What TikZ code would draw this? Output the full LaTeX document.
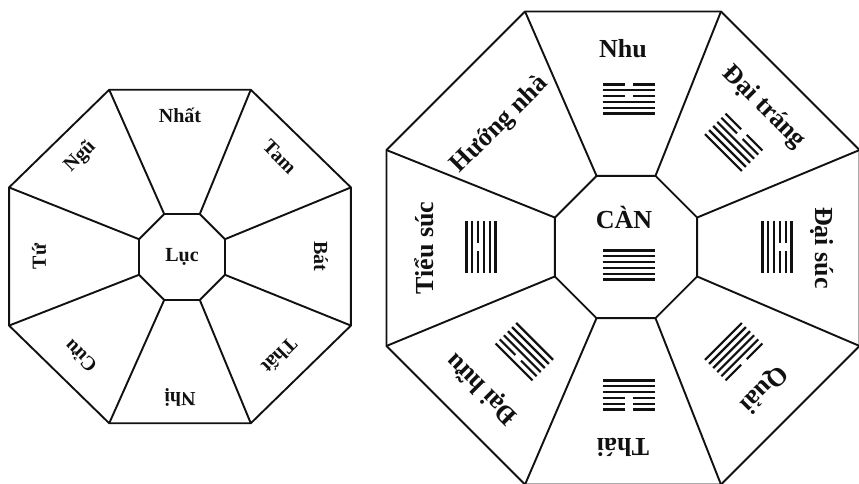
\documentclass[tikz,border=0pt]{standalone}
\usepackage{fontspec}
\setmainfont{Liberation Serif}
\usetikzlibrary{positioning,calc}
\definecolor{baguaLine}{HTML}{111111}
\definecolor{baguaPaper}{HTML}{FFFFFF}

\begin{document}
\begin{tikzpicture}[
    x=1pt,y=1pt,
    octline/.style={line width=1.9pt,baguaLine,line join=round},
    label_sm/.style={font=\fontsize{20}{20}\selectfont\bfseries,baguaLine,inner sep=0pt},
    label_lg/.style={font=\fontsize{26}{26}\selectfont\bfseries,baguaLine,inner sep=0pt},
    gua1/.style={line width=2.2pt,baguaLine},
    gua0/.style={gua1,dash pattern=on 22pt off 8pt},
]

% === PAGE ===
\fill[baguaPaper] (0,0) rectangle (859,483);
\useasboundingbox (0,0) rectangle (859,483);

% === LEFT OCTAGON (numbers) ===
\coordinate (lc) at (180,226.5);
\coordinate (lic) at (182,226);
\foreach \k in {0,...,7}{
    \coordinate (lo\k) at ($(lc)+({185*cos(22.5+45*\k)},{180.5*sin(22.5+45*\k)})$);
    \coordinate (li\k) at ($(lic)+(22.5+45*\k:46.5)$);
}
\draw[octline] (lo0) -- (lo1) -- (lo2) -- (lo3) -- (lo4) -- (lo5) -- (lo6) -- (lo7) -- cycle;
\draw[octline] (li0) -- (li1) -- (li2) -- (li3) -- (li4) -- (li5) -- (li6) -- (li7) -- cycle;
\foreach \k in {0,...,7}
    \draw[octline] (li\k) -- (lo\k);

\node[label_sm] (luc) at (lic) {Lục};
\foreach \a/\t [count=\i] in {90/Nhất,45/Tam,0/Bát,-45/Thất,-90/Nhị,-135/Cửu,180/Tứ,135/Ngũ}
    \node[label_sm,rotate=\a-90] (lnum\i) at ($(lc)+(\a:141)$) {\t};

% === RIGHT OCTAGON (hexagrams) ===
\coordinate (rc) at (623,235);
\coordinate (ric) at (626,236);
\coordinate (rgc) at (629,236);
\foreach \k in {0,...,7}{
    \coordinate (ro\k) at ($(rc)+(22.5+45*\k:256)$);
    \coordinate (ri\k) at ($(ric)+(22.5+45*\k:77)$);
}
\draw[octline] (ro0) -- (ro1) -- (ro2) -- (ro3) -- (ro4) -- (ro5) -- (ro6) -- (ro7) -- cycle;
\draw[octline] (ri0) -- (ri1) -- (ri2) -- (ri3) -- (ri4) -- (ri5) -- (ri6) -- (ri7) -- cycle;
\foreach \k in {0,...,7}
    \draw[octline] (ri\k) -- (ro\k);

% centre
\node[label_lg] (can) at (624,266) {CÀN};
\begin{scope}[shift={(629,218)}]
    \foreach \i in {1,...,6}
        \draw[gua1] (-26,{14.5-(\i-1)*5.8}) -- (26,{14.5-(\i-1)*5.8});
\end{scope}

% sectors: top line of each hexagram faces outward
\foreach \a/\t/\g [count=\i] in {90/Nhu/{0,1,0,1,1,1},45/Đại tráng/{0,0,1,1,1,1},
        0/Đại súc/{1,0,0,1,1,1},-45/Quải/{0,1,1,1,1,1},-90/Thái/{0,0,0,1,1,1},
        -135/Đại hữu/{1,0,1,1,1,1},180/Tiểu súc/{1,1,0,1,1,1}}{
    \node[label_lg,rotate=\a-90] (rname\i) at ($(rc)+(\a:199)$) {\t};
    \begin{scope}[shift={($(rgc)+(\a:148)$)},rotate=\a-90]
        \foreach \v [count=\j] in \g
            \draw[gua\v] (-26,{14.5-(\j-1)*5.8}) -- (26,{14.5-(\j-1)*5.8});
    \end{scope}
}
\node[label_lg,rotate=45] (huong) at ($(rc)+(135:174)$) {Hướng nhà};

\end{tikzpicture}
\end{document}
